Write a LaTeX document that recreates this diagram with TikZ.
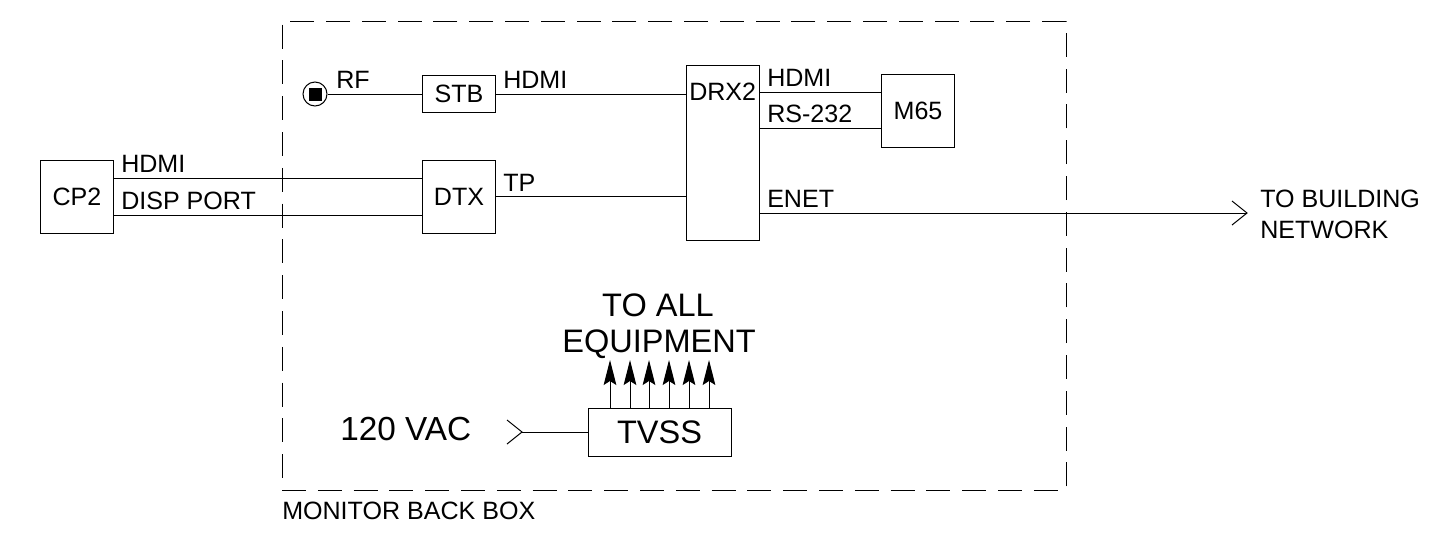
\documentclass[tikz,border=0pt]{standalone}
\usepackage{fontspec}
\setmainfont{Liberation Sans}
\usetikzlibrary{arrows.meta}
\tikzset{
  eqbox/.style={draw, line width=0.75pt, inner sep=0pt, font=\fontsize{18.8}{20}\selectfont},
  lbl/.style={anchor=base west, inner sep=0pt, font=\fontsize{18.8}{20}\selectfont},
  biglbl/.style={inner sep=0pt, font=\fontsize{24.4}{26}\selectfont},
  wire/.style={line width=0.75pt},
  pwrarrow/.style={line width=0.75pt, -{Stealth[length=18.75pt, width=9.5pt, inset=3pt]}}
}

\begin{document}
\begin{tikzpicture}[x=0.75pt, y=-0.75pt]%
  \def\bw{54.5pt}%
  \useasboundingbox (0,0) rectangle (1454,547);
  % back box
  \node[minimum width=588pt, minimum height=351.75pt, inner sep=0pt, outer sep=0pt] (backbox) at (674,255.5) {};
  \draw[dash pattern=on 18pt off 8.85pt, line width=0.75pt] (backbox.south west) -- (backbox.south east) -- (backbox.north east) -- (backbox.north west) -- cycle;
  \node[lbl] (backlbl) at (282,519) {MONITOR BACK BOX};

  % equipment
  \node[eqbox, minimum width=\bw, minimum height=54.75pt] (cp2) at (77,196.5) {CP2};
  \node[eqbox, minimum width=\bw, minimum height=27.75pt] (stb) at (459,93.5) {STB};
  \node[eqbox, minimum width=\bw, minimum height=54.75pt] (dtx) at (459,196.5) {DTX};
  \node[eqbox, minimum width=\bw, minimum height=131.25pt] (drx2) at (723,153) {};
  \node[lbl] (drx2lbl) at (689,100) {DRX2};
  \node[eqbox, minimum width=\bw, minimum height=54.75pt] (m65) at (918,110.5) {M65};
  \node[eqbox, minimum width=107.25pt, minimum height=36pt, font=\fontsize{24.4}{26}\selectfont] (tvss) at (659.5,432) {TVSS};

  % RF input
  \node[draw, circle, line width=0.75pt, minimum size=18pt, inner sep=0pt] (rf) at (315,94) {};
  \fill (308.5,87.5) rectangle (321.5,100.5);

  % wiring
  \draw[wire] (rf.east) -- (stb.west |- rf.east);
  \draw[wire] (stb.east |- rf.east) -- (drx2.west |- rf.east);
  \draw[wire] ([yshift=13.875pt]cp2.east) -- ([yshift=13.875pt]dtx.west);
  \draw[wire] ([yshift=-13.875pt]cp2.east) -- ([yshift=-13.875pt]dtx.west);
  \draw[wire] (dtx.east) -- (drx2.west |- dtx.east);
  \draw[wire] ([yshift=13.875pt]drx2.east |- m65.west) -- ([yshift=13.875pt]m65.west);
  \draw[wire] ([yshift=-13.125pt]drx2.east |- m65.west) -- ([yshift=-13.125pt]m65.west);

  % to building
  \coordinate (bldg) at (1247,213);
  \draw[wire] (drx2.east |- bldg) -- (bldg);
  \draw[wire] (bldg) ++(-15,-12) -- (bldg) -- ++(-15,12);

  % 120 VAC feed
  \coordinate (vac) at (522,432);
  \draw[wire] (vac) -- (tvss.west);
  \draw[wire] (vac) ++(-15,-12) -- (vac) -- ++(-15,12);

  % outlets
  \foreach \x in {610,630,649,669,689,709}
    \draw[pwrarrow] (tvss.north -| \x,0) -- (\x,360);

  % labels
  \node[lbl] (rflbl) at (336,88) {RF};
  \node[lbl] (hdmia) at (503,88) {HDMI};
  \node[lbl] (hdmib) at (121,172) {HDMI};
  \node[lbl] (disp) at (121,209) {DISP PORT};
  \node[lbl] (tplbl) at (503,191) {TP};
  \node[lbl] (hdmic) at (767,86) {HDMI};
  \node[lbl] (rslbl) at (767,122) {RS-232};
  \node[lbl] (enet) at (767,207) {ENET};
  \node[lbl] (bldga) at (1260,207) {TO BUILDING};
  \node[lbl] (bldgb) at (1260,238) {NETWORK};
  \node[biglbl, anchor=base] (toall) at (658,316) {TO ALL};
  \node[biglbl, anchor=base] (equip) at (659,352) {EQUIPMENT};
  \node[biglbl, anchor=base west, font=\fontsize{25}{26}\selectfont] (vaclbl) at (340,440) {120 VAC};
\end{tikzpicture}
\end{document}
